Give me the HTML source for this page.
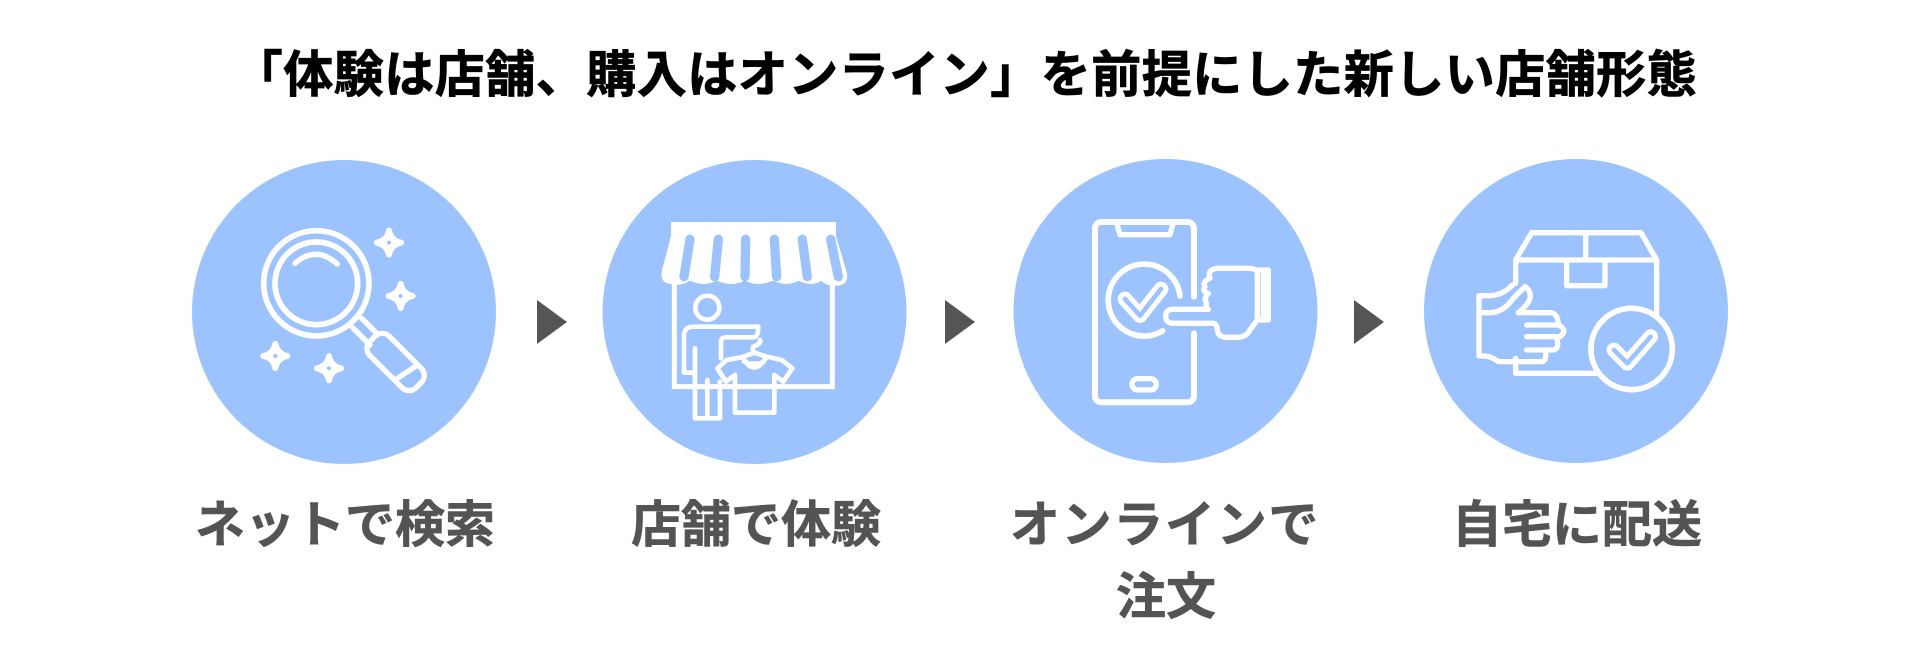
<!DOCTYPE html>
<html lang="ja"><head><meta charset="utf-8"><style>
html,body{margin:0;padding:0;background:#fff}
body{width:1920px;height:672px;position:relative;overflow:hidden}
.t{position:absolute;white-space:nowrap;transform:translateX(-50%);font-family:"Liberation Sans","Noto Sans CJK JP",sans-serif;font-weight:700;line-height:1}
.l{font-size:50px;letter-spacing:0;color:#545454;-webkit-text-stroke:.6px #545454}
svg{position:absolute;left:0;top:0}
.i{fill:none;stroke:#fff;stroke-width:16;stroke-linecap:round;stroke-linejoin:round}
</style></head><body>
<svg width="1920" height="672" viewBox="0 0 1920 672">
<circle cx="344" cy="312" r="152" fill="#9dc3ff"/><circle cx="754.5" cy="312" r="152" fill="#9dc3ff"/><circle cx="1165.5" cy="311" r="152" fill="#9dc3ff"/><circle cx="1576" cy="311" r="152" fill="#9dc3ff"/>
<polygon points="537,300 567,322 537,344" fill="#555"/><polygon points="945,300 975,322 945,344" fill="#555"/><polygon points="1354,300 1384,322 1354,344" fill="#555"/>
<g transform="translate(180,150) scale(.3333)" class="i">
<circle cx="409" cy="400" r="158" stroke-width="17"/><circle cx="409" cy="400" r="124" stroke-width="17"/>
<path d="M345,340Q408,285 472,342M515,530L570,585M545,505L590,550M648,688L708,648"/>
<rect x="549" y="595" width="196" height="82" rx="30" transform="rotate(45 647 636)"/>
<g fill="#fff" stroke-width="18"><path d="M627,242Q633,272 663,278Q633,284 627,314Q621,284 591,278Q621,272 627,242Z"/><path d="M662,402Q668,432 698,438Q668,444 662,474Q656,444 626,438Q656,432 662,402Z"/><path d="M286,582Q292,612 322,618Q292,624 286,654Q280,624 250,618Q280,612 286,582Z"/><path d="M447,619Q453,649 483,655Q453,661 447,691Q441,661 411,655Q441,649 447,619Z"/></g>
<g fill="#9dc3ff" stroke="none"><circle cx="627" cy="278" r="6"/><circle cx="662" cy="438" r="6"/><circle cx="286" cy="618" r="6"/><circle cx="447" cy="655" r="6"/></g>
</g>
<g transform="translate(590,150) scale(.3333)" class="i">
<path stroke-width="15" d="M253,395V710H727V395" stroke-linecap="butt" stroke-linejoin="miter"/>
<path fill="#fff" stroke="none" d="M243,216H738V258L771,370Q776,405 742,407Q705,408 695,392Q665,412 625,392Q590,412 550,392Q500,412 465,392Q425,412 380,392Q340,412 300,392Q270,412 235,400Q212,398 215,365L243,258Z"/>
<path stroke="#9dc3ff" stroke-width="28" d="M300,268L282,380M385,268L374,380M467,268L465,380M553,268L560,380M637,268L652,380M722,268L745,380"/>
<g stroke-width="14"><circle cx="352" cy="473" r="36"/>
<path d="M505,530H310Q282,530 282,558V668H312M315,595V805H390V695M352,690V800M393,625V575Q393,562 410,562H490Q505,562 505,530M510,570Q515,580 490,590Q485,600 493,608L455,622L410,630L382,655L408,695L435,675V788H553V675L580,695L607,655L575,630L530,620L493,608M460,625Q492,680 527,625"/>
<path d="M462,634Q492,652 522,634" fill="#fff"/></g>
</g>
<g transform="translate(1000,150) scale(.3333)" class="i">
<path stroke-width="18" d="M582,440V238Q582,216 560,216H307Q285,216 285,238V735Q285,757 307,757H560Q582,757 582,735V550"/>
<path d="M352,225L360,254H510L518,225"/><rect x="396" y="686" width="73" height="34" rx="17"/>
<path stroke-width="17" d="M540,438A108,108 0 1 0 488,543"/>
<path stroke-width="44" d="M375,447L420,497L483,417"/><path stroke="#9dc3ff" stroke-width="14" d="M375,447L420,497L483,417"/>
<path stroke-width="16" d="M625,478H520Q497,478 497,498Q497,520 520,520H640Q650,520 652,540Q655,562 680,562H715Q740,560 750,540L772,510V365Q765,355 745,355H650Q620,360 630,385Q605,395 615,410Q605,425 625,430Q610,445 620,460Q615,470 625,478M772,360H805V510H772M790,365V505"/>
</g>
<g transform="translate(1410,150) scale(.3333)" class="i">
<path d="M317,330L365,248H693L740,330ZM527,248V330M470,330V407H585V330M317,330V400M317,625V670H560M740,330V490"/>
<circle cx="665" cy="597" r="122" stroke-width="17"/>
<path stroke-width="44" d="M612,600L652,640L722,560"/><path stroke="#9dc3ff" stroke-width="14" d="M612,600L652,640L722,560"/>
<path d="M307,405Q280,435 240,437H207V618H225Q245,620 265,635H395Q410,635 407,600M207,488H240Q280,488 310,445L345,410Q385,440 325,488H425Q445,495 445,525H350M445,525Q475,540 450,560H350M440,565Q450,595 430,600H350"/>
</g>
</svg>
<div class="t" style="left:965px;top:50px;font-size:50px;letter-spacing:.5px;color:#000;-webkit-text-stroke:.8px #000">「体験は店舗、購入はオンライン」を前提にした新しい店舗形態</div>
<div class="t l" style="left:345px;top:500px">ネットで検索</div>
<div class="t l" style="left:756px;top:500px">店舗で体験</div>
<div class="t l" style="left:1165px;top:500px;letter-spacing:1.7px">オンラインで</div>
<div class="t l" style="left:1166px;top:572px">注文</div>
<div class="t l" style="left:1577px;top:500px">自宅に配送</div>
</body></html>
